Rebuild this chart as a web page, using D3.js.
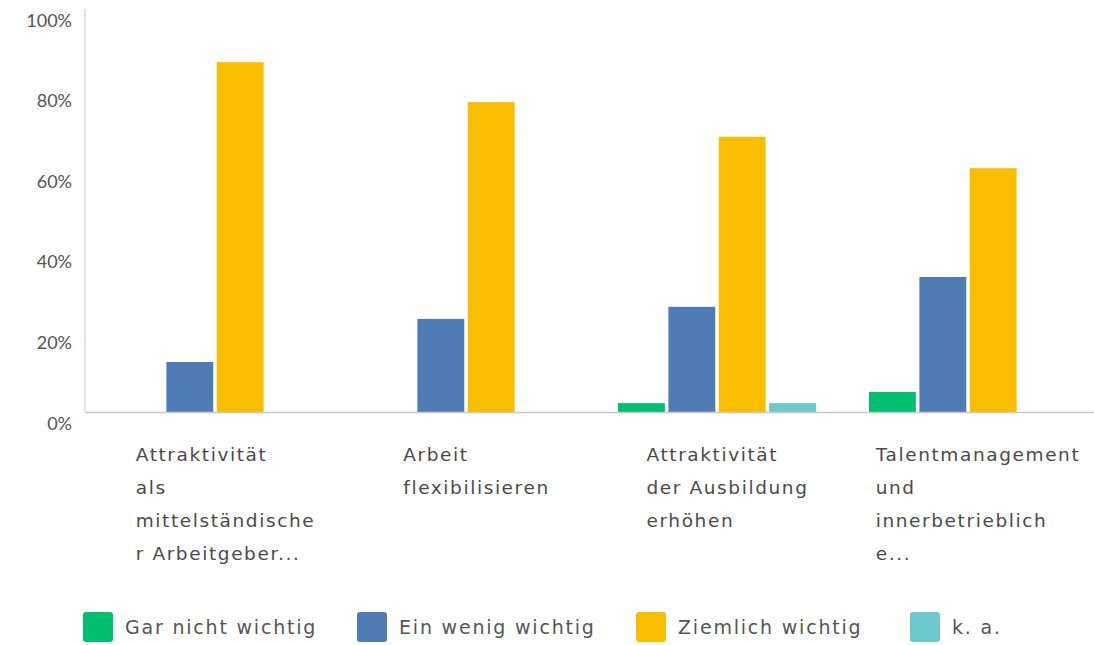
<!DOCTYPE html>
<html><head><meta charset="utf-8">
<script src="https://cdn.jsdelivr.net/npm/d3@7"></script>
<style>
html,body{margin:0;padding:0;background:#fff;}
svg{display:block;}
</style></head>
<body>
<svg id="chart" width="1094" height="645"></svg>
<script>
const categories = [
  ["Attraktivität", "als", "mittelständische", "r Arbeitgeber..."],
  ["Arbeit", "flexibilisieren"],
  ["Attraktivität", "der Ausbildung", "erhöhen"],
  ["Talentmanagement", "und", "innerbetrieblich", "e..."]
];
const seriesNames = ["Gar nicht wichtig", "Ein wenig wichtig", "Ziemlich wichtig", "k. a."];
const seriesColors = ["#00BF6F", "#507CB6", "#F9BE00", "#6BC8CD"];
const garNicht   = [0, 0, 2.2, 5.0];
const einWenig   = [12.4, 23.1, 26.1, 33.5];
const ziemlich   = [86.8, 76.9, 68.3, 60.5];
const ka         = [0, 0, 2.2, 0];
const yTicks = [0, 20, 40, 60, 80, 100];

const seriesValues = [garNicht, einWenig, ziemlich, ka];
const svg = d3.select("#chart");
const plot = {left: 85, right: 1094, top: 9, bottom: 412};
const labelFont = "'DejaVu Sans', sans-serif";

const y = d3.scaleLinear().domain([0, 100]).range([plot.bottom, plot.top]);
const x0 = d3.scaleBand().domain(d3.range(categories.length)).range([88, 1092]).padding(0);
const x1 = d3.scaleBand().domain(d3.range(seriesNames.length))
  .range([28, x0.bandwidth() - 25]).paddingInner(0.07).paddingOuter(0);

// y axis line
svg.append("line").attr("x1", plot.left).attr("x2", plot.left)
  .attr("y1", plot.top).attr("y2", plot.bottom)
  .attr("stroke", "#d9d9d9").attr("stroke-width", 1.5);

// tick labels
svg.append("g").selectAll("text").data(yTicks).join("text")
  .attr("x", 72).attr("y", d => y(d) + 13)
  .attr("text-anchor", "end").attr("dominant-baseline", "middle")
  .attr("font-family", "Lato, 'Open Sans', sans-serif").attr("font-size", 18)
  .attr("fill", "#555").text(d => d + "%");

// bars
const g = svg.append("g");
categories.forEach((c, ci) => {
  seriesValues.forEach((vals, si) => {
    const v = vals[ci];
    if (v <= 0) return;
    g.append("rect")
      .attr("x", x0(ci) + x1(si))
      .attr("y", y(v))
      .attr("width", x1.bandwidth())
      .attr("height", y(0) - y(v))
      .attr("fill", seriesColors[si]);
  });
});

// baseline
svg.append("line").attr("x1", plot.left).attr("x2", plot.right)
  .attr("y1", plot.bottom + 0.5).attr("y2", plot.bottom + 0.5)
  .attr("stroke", "#c8c8c8").attr("stroke-width", 1.5);

// category labels
categories.forEach((lines, ci) => {
  const t = svg.append("text")
    .attr("font-family", labelFont).attr("font-size", 18.5)
    .attr("letter-spacing", 1.6)
    .attr("fill", "#4a4a4a");
  lines.forEach((ln, li) => {
    t.append("tspan").attr("x", 0).attr("y", 461 + li * 33).text(ln);
  });
  const w = t.node().getBBox().width;
  const cx = x0(ci) + x0.bandwidth() / 2 + 12;
  t.attr("transform", `translate(${cx - w / 2},0)`);
});

// legend
const legendX = [83, 357, 636, 910];
const lg = svg.append("g");
seriesNames.forEach((n, i) => {
  lg.append("rect").attr("x", legendX[i]).attr("y", 612).attr("width", 30).attr("height", 30)
    .attr("rx", 3).attr("fill", seriesColors[i]);
  lg.append("text").attr("x", legendX[i] + 42).attr("y", 628)
    .attr("dominant-baseline", "middle")
    .attr("font-family", labelFont).attr("font-size", 19)
    .attr("letter-spacing", 1.8)
    .attr("fill", "#555").text(n);
});
</script>
</body></html>
